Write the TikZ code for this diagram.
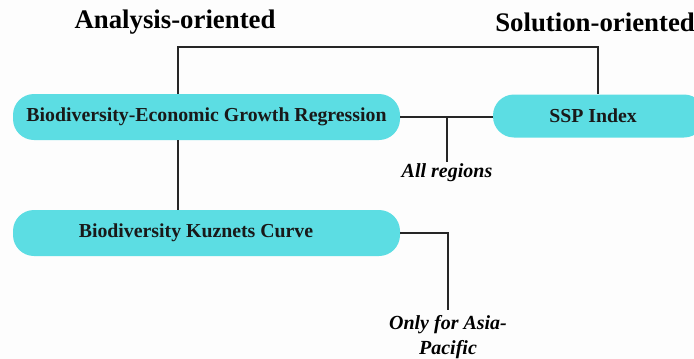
\documentclass[tikz,border=0pt]{standalone}
\usepackage{fontspec}
\setmainfont{Liberation Serif}
\definecolor{boxcyan}{HTML}{5CDDE3}
\definecolor{bgwhite}{HTML}{FDFDFD}
\begin{document}
\begin{tikzpicture}[x=1pt,y=-1pt,
  pill/.style={fill=boxcyan, rounded corners=21pt, minimum height=46pt, inner sep=0pt,
    font=\fontsize{19.8}{23}\selectfont\bfseries, text=black!90},
  head/.style={font=\fontsize{26.8}{30}\selectfont\bfseries, inner sep=0pt},
  note/.style={font=\fontsize{20}{25}\selectfont\bfseries\itshape, inner sep=0pt, align=center},
  link/.style={line width=2.6pt, black!85}]
\useasboundingbox (0,0) rectangle (694,359);
\fill[bgwhite] (0,0) rectangle (694,359);
\clip (0,0) rectangle (694,359);

\node[head] (ana) at (175,22) {Analysis-oriented};
\node[head, anchor=east] (sol) at (695,22) {Solution-oriented};

\node[pill, minimum width=387pt] (reg) at (206.5,117) {Biodiversity-Economic Growth Regression};
\node[pill, minimum width=387pt] (kuz) at (206.5,233) {\hspace*{-21pt}Biodiversity Kuznets Curve};
\node[pill, minimum width=212pt, minimum height=43pt] (ssp) at (599,116) {\hspace*{-12pt}SSP Index};

\coordinate (tl) at (178,47);
\coordinate (tr) at (598,47);
\coordinate (branch) at (447,117);
\coordinate (allend) at (447,162);
\coordinate (asiaend) at (448,310);

\draw[link] (reg.north -| tl) -- (tl) -- (tr) -- (ssp.north -| tr);
\draw[link] (reg.south -| tl) -- (kuz.north -| tl);
\draw[link] (reg.east) -- (ssp.west |- reg.east);
\draw[link] (branch) -- (allend);
\draw[link] (kuz.east) -| (asiaend);

\node[note] (all) at (447,173) {All regions};
\node[note] (asia) at (448,337) {Only for Asia-\\Pacific};
\end{tikzpicture}
\end{document}
